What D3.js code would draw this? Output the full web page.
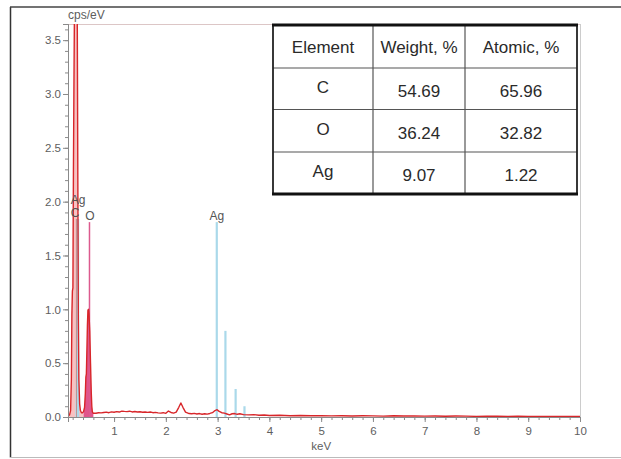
<!DOCTYPE html>
<html>
<head>
<meta charset="utf-8">
<script src="https://d3js.org/d3.v7.min.js"></script>
<style>
  body { margin: 0; background: #fff; }
  svg { display: block; font-family: "Liberation Sans", Arial, sans-serif; }
</style>
</head>
<body>
<svg width="621" height="459"></svg>
<script>
// spectrum (keV, cps/eV)
const spectrumEnergy = [
  0.11, 0.14, 0.16, 0.175, 0.185, 0.195, 0.205, 0.215, 0.225, 0.235, 0.25, 0.265, 0.28, 0.29, 0.30, 0.31, 0.32, 0.335,
  0.35, 0.37, 0.39, 0.41, 0.43, 0.445, 0.455, 0.465, 0.475, 0.485, 0.495, 0.505, 0.515, 0.53, 0.545, 0.56, 0.57, 0.58,
  0.59, 0.60, 0.65, 0.70, 0.75, 0.80, 0.85, 0.90, 0.95, 1.00, 1.05, 1.10, 1.15, 1.20, 1.25, 1.30, 1.35, 1.40, 1.45,
  1.50, 1.55, 1.60, 1.65, 1.70, 1.75, 1.80, 1.85, 1.90, 1.95, 2.00, 2.05, 2.10, 2.15, 2.20, 2.25, 2.29, 2.33, 2.38,
  2.45, 2.50, 2.55, 2.60, 2.65, 2.70, 2.75, 2.80, 2.85, 2.90, 2.95, 2.99, 3.03, 3.08, 3.13, 3.18, 3.23, 3.28, 3.33,
  3.38, 3.43, 3.50, 3.60, 3.70, 3.80, 3.90, 4.00, 4.20, 4.40, 4.60, 4.80, 5.00, 5.20, 5.40, 5.60, 5.80, 6.00, 6.20,
  6.40, 6.60, 6.80, 7.00, 7.20, 7.40, 7.60, 7.80, 8.00, 8.20, 8.40, 8.60, 8.80, 9.00, 9.20, 9.40, 9.60, 9.80, 10.0
];
const spectrumCounts = [
  0.01, 0.02, 0.06, 0.35, 0.95, 1.17, 1.20, 2.30, 3.10, 3.80, 4.20, 4.30, 4.10, 3.60, 2.20, 0.90, 0.35, 0.12,
  0.06, 0.04, 0.04, 0.05, 0.09, 0.22, 0.37, 0.40, 0.62, 0.85, 0.99, 1.00, 0.96, 0.80, 0.50, 0.22, 0.10, 0.05,
  0.04, 0.035, 0.035, 0.040, 0.038, 0.042, 0.045, 0.040, 0.048, 0.044, 0.050, 0.046, 0.055, 0.052, 0.050, 0.054, 0.047, 0.051, 0.046,
  0.049, 0.044, 0.047, 0.043, 0.046, 0.040, 0.043, 0.038, 0.036, 0.040, 0.034, 0.055, 0.042, 0.036, 0.045, 0.090, 0.130, 0.090, 0.045,
  0.032, 0.030, 0.034, 0.028, 0.032, 0.026, 0.030, 0.027, 0.033, 0.040, 0.060, 0.068, 0.052, 0.040, 0.036, 0.028, 0.020, 0.030, 0.032,
  0.025, 0.030, 0.022, 0.020, 0.022, 0.016, 0.018, 0.014, 0.016, 0.012, 0.014, 0.011, 0.013, 0.010, 0.012, 0.009, 0.011, 0.010, 0.008,
  0.011, 0.009, 0.010, 0.008, 0.009, 0.007, 0.009, 0.008, 0.006, 0.008, 0.007, 0.006, 0.007, 0.005, 0.006, 0.005, 0.006, 0.004, 0.005
];

// Ag M fit near the carbon peak
const agFitEnergy = [0.245, 0.26, 0.275, 0.29, 0.303, 0.312, 0.322];
const agFitCounts = [0, 0.30, 0.55, 0.60, 1.07, 0.40, 0];

// element marker lines
const markerElement = ['C', 'Ag', 'O', 'Ag', 'Ag', 'Ag', 'Ag'];
const markerEnergy = [0.277, 0.305, 0.525, 2.984, 3.151, 3.348, 3.519];
const markerHeight = [1.84, 1.84, 1.81, 1.81, 0.80, 0.26, 0.10];
const markerLabel = ['C', 'Ag', 'O', 'Ag', '', '', ''];

// tick labels
const xTicks = [1, 2, 3, 4, 5, 6, 7, 8, 9, 10];
const yTicks = [0, 0.5, 1.0, 1.5, 2.0, 2.5, 3.0, 3.5];

// quantification table
const tableHeader = ['Element', 'Weight, %', 'Atomic, %'];
const tableElements = ['C', 'O', 'Ag'];
const weightPct = [54.69, 36.24, 9.07];
const atomicPct = [65.96, 32.82, 1.22];

const elementColor = { C: '#c09393', O: '#dc5a8e', Ag: '#aad9ea' };

const svg = d3.select('svg');
const margin = { top: 24, right: 41, bottom: 42, left: 68 };
const width = +svg.attr('width');
const height = +svg.attr('height');
const innerWidth = width - margin.left - margin.right;
const innerHeight = height - margin.top - margin.bottom;

// outer frame
svg.append('line').attr('x1', 10.5).attr('x2', 10.5).attr('y1', 7).attr('y2', 457.5)
  .attr('stroke', '#333').attr('stroke-width', 1.5);
svg.append('line').attr('x1', 10).attr('x2', 621).attr('y1', 7).attr('y2', 7)
  .attr('stroke', '#444').attr('stroke-width', 1.5);
svg.append('line').attr('x1', 10).attr('x2', 621).attr('y1', 457.5).attr('y2', 457.5)
  .attr('stroke', '#bbb').attr('stroke-width', 1);

const x = d3.scaleLinear().domain([0.11, 10]).range([0, innerWidth]);
const y = d3.scaleLinear().domain([0, 3.65]).range([innerHeight, 0]);

const g = svg.append('g').attr('transform', `translate(${margin.left},${margin.top})`);

g.append('clipPath').attr('id', 'plotclip')
  .append('rect').attr('width', innerWidth).attr('height', innerHeight);

// plot box top / right
g.append('line').attr('x1', 0).attr('x2', innerWidth).attr('y1', 0.5).attr('y2', 0.5)
  .attr('stroke', '#dcc6c6');
g.append('line').attr('x1', innerWidth + 0.5).attr('x2', innerWidth + 0.5).attr('y1', 0).attr('y2', innerHeight)
  .attr('stroke', '#ccc');

const spectrum = spectrumEnergy.map((e, i) => ({ e, v: spectrumCounts[i] }));
const agFit = agFitEnergy.map((e, i) => ({ e, v: agFitCounts[i] }));

const area = d3.area().x(d => x(d.e)).y0(y(0)).y1(d => y(d.v));
const line = d3.line().x(d => x(d.e)).y(d => y(d.v));

const plot = g.append('g').attr('clip-path', 'url(#plotclip)');

plot.append('path').datum(spectrum.filter(d => d.e <= 0.41))
  .attr('d', area).attr('fill', '#f7c2c2');
plot.append('path').datum(spectrum.filter(d => d.e >= 0.41 && d.e <= 0.60))
  .attr('d', area).attr('fill', '#e0558b');
plot.append('path').datum(agFit)
  .attr('d', area).attr('fill', '#bfe3ef').attr('opacity', 0.85);

// marker lines
plot.selectAll('.marker').data(markerEnergy).enter().append('line')
  .attr('class', 'marker')
  .attr('x1', d => x(d)).attr('x2', d => x(d))
  .attr('y1', y(0)).attr('y2', (d, i) => y(markerHeight[i]))
  .attr('stroke', (d, i) => elementColor[markerElement[i]])
  .attr('stroke-width', (d, i) => markerElement[i] === 'Ag' ? 2.2 : 1.5);

plot.append('path').datum(spectrum)
  .attr('d', line).attr('fill', 'none')
  .attr('stroke', '#d8262a').attr('stroke-width', 1.4).attr('stroke-linejoin', 'round');

// marker labels (Ag over C stacks one row up)
g.selectAll('.mlabel').data(markerLabel.map((t, i) => ({ t, i })).filter(d => d.t)).enter().append('text')
  .attr('class', 'mlabel')
  .attr('x', d => x(markerEnergy[d.i]) + (d.i === 0 ? -1.5 : d.i === 1 ? 0 : d.i === 2 ? 0.5 : 0))
  .attr('y', d => y(markerHeight[d.i]) - 2 - (d.i === 1 ? 12.5 : 0))
  .attr('text-anchor', 'middle')
  .attr('font-size', 12).attr('fill', '#555')
  .text(d => d.t);

// axes
const yMinor = g.append('g').call(d3.axisLeft(y).tickValues(d3.range(0, 3.65, 0.1)).tickSize(3).tickFormat(''));
const yAxis = g.append('g').call(d3.axisLeft(y).tickValues(yTicks).tickSize(5).tickPadding(2).tickFormat(d3.format('.1f')));
const xMinor = g.append('g').attr('transform', `translate(0,${innerHeight})`)
  .call(d3.axisBottom(x).tickValues(d3.range(0.2, 10.01, 0.2)).tickSize(3).tickFormat(''));
const xAxis = g.append('g').attr('transform', `translate(0,${innerHeight})`)
  .call(d3.axisBottom(x).tickValues(xTicks).tickSize(5).tickPadding(5));

yMinor.selectAll('.tick text').remove();
xMinor.selectAll('.tick text').remove();

[yMinor, yAxis, xMinor, xAxis].forEach(a => {
  a.select('.domain').attr('stroke', '#8a8a8a');
  a.selectAll('.tick line').attr('stroke', '#8a8a8a');
  a.selectAll('.tick text').attr('fill', '#5e5e5e').attr('font-size', 11.5)
    .attr('font-family', '"Liberation Sans", Arial, sans-serif');
});

g.append('text').attr('x', 0).attr('y', -5).attr('font-size', 12).attr('fill', '#5e5e5e').text('cps/eV');
g.append('text').attr('x', x(5)).attr('y', innerHeight + 33).attr('text-anchor', 'middle')
  .attr('font-size', 11.5).attr('fill', '#5e5e5e').text('keV');

// table
const colEdges = [273, 373, 465, 577];
const rowEdges = [25, 68, 109.5, 152, 194];
const table = svg.append('g');
table.append('rect').attr('x', colEdges[0]).attr('y', rowEdges[0])
  .attr('width', colEdges[3] - colEdges[0]).attr('height', rowEdges[4] - rowEdges[0])
  .attr('fill', '#fff');
const rows = [tableHeader].concat(tableElements.map((el, i) => [el, weightPct[i].toFixed(2), atomicPct[i].toFixed(2)]));
rows.forEach((r, ri) => {
  r.forEach((txt, ci) => {
    table.append('text')
      .attr('x', (colEdges[ci] + colEdges[ci + 1]) / 2)
      .attr('y', (rowEdges[ri] + rowEdges[ri + 1]) / 2 + (ri === 0 ? 0 : ci === 0 ? -2 : 2))
      .attr('dy', '0.36em').attr('text-anchor', 'middle')
      .attr('font-size', 17).attr('fill', '#2a2a2a').text(txt);
  });
});
rowEdges.slice(1, 4).forEach(ry => {
  table.append('line').attr('x1', colEdges[0]).attr('x2', colEdges[3]).attr('y1', ry).attr('y2', ry)
    .attr('stroke', '#555').attr('stroke-width', 1.2);
});
colEdges.slice(1, 3).forEach(cx => {
  table.append('line').attr('x1', cx).attr('x2', cx).attr('y1', rowEdges[0]).attr('y2', rowEdges[4])
    .attr('stroke', '#555').attr('stroke-width', 1.2);
});
[colEdges[0], colEdges[3]].forEach(cx => {
  table.append('line').attr('x1', cx).attr('x2', cx).attr('y1', rowEdges[0]).attr('y2', rowEdges[4])
    .attr('stroke', '#222').attr('stroke-width', 1.8);
});
[rowEdges[0], rowEdges[4]].forEach(ry => {
  table.append('line').attr('x1', colEdges[0] - 1).attr('x2', colEdges[3] + 1).attr('y1', ry).attr('y2', ry)
    .attr('stroke', '#111').attr('stroke-width', 3);
});
</script>
</body>
</html>
